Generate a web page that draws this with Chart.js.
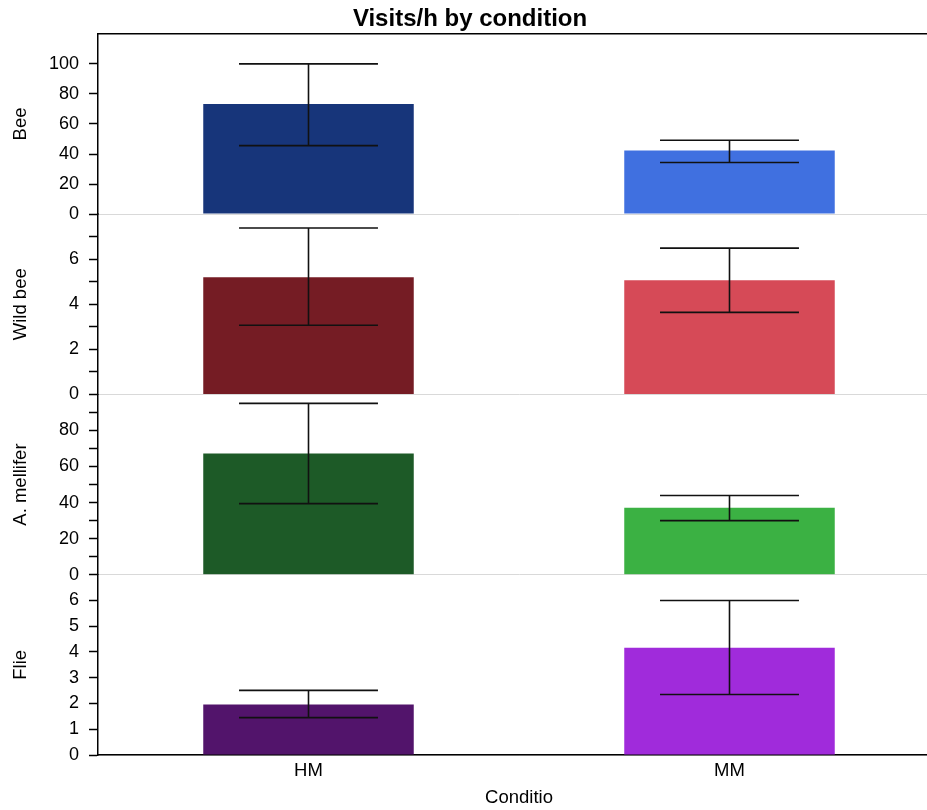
<!DOCTYPE html>
<html>
<head>
<meta charset="utf-8">
<script src="https://cdn.jsdelivr.net/npm/chart.js@4"></script>
<style>
  html, body { margin: 0; padding: 0; background: #fff; overflow: hidden; }
  canvas { display: block; }
</style>
</head>
<body>
<canvas id="chart" width="940" height="810"></canvas>
<script>
const categories = ['HM', 'MM']

// mean and error-bar ends, one set per panel
const beeMeans = [73.2, 42.3]
const beeLow = [45.6, 34.3]
const beeHigh = [100, 49.2]

const wildMeans = [5.2, 5.07]
const wildLow = [3.07, 3.64]
const wildHigh = [7.38, 6.49]

const mellMeans = [67.2, 37.2]
const mellLow = [39.4, 30]
const mellHigh = [95, 43.9]

const flieMeans = [1.96, 4.16]
const flieLow = [1.45, 2.35]
const flieHigh = [2.51, 6.0]

const beeTicks = [0, 20, 40, 60, 80, 100]
const wildTicks = [0, 1, 2, 3, 4, 5, 6, 7]
const mellTicks = [0, 10, 20, 30, 40, 50, 60, 70, 80, 90]
const flieTicks = [0, 1, 2, 3, 4, 5, 6]

const FONT = '"Liberation Sans", Arial, Helvetica, sans-serif'

const errorBars = {
  id: 'errorBars',
  afterDatasetsDraw(chart) {
    const ctx = chart.ctx
    ctx.save()
    ctx.strokeStyle = '#111'
    ctx.lineWidth = 1.6
    chart.data.datasets.forEach((ds, i) => {
      const meta = chart.getDatasetMeta(i)
      const scale = chart.scales[meta.yAxisID]
      meta.data.forEach((bar, j) => {
        const x = bar.x
        const half = bar.width * 0.33
        const yl = scale.getPixelForValue(ds.low[j])
        const yh = scale.getPixelForValue(ds.high[j])
        ctx.beginPath()
        ctx.moveTo(x, yl); ctx.lineTo(x, yh)
        ctx.moveTo(x - half, yl); ctx.lineTo(x + half, yl)
        ctx.moveTo(x - half, yh); ctx.lineTo(x + half, yh)
        ctx.stroke()
      })
    })
    ctx.restore()
  }
}

const topBorder = {
  id: 'topBorder',
  afterDraw(chart) {
    const {ctx, chartArea} = chart
    ctx.save()
    ctx.strokeStyle = '#000'
    ctx.lineWidth = 1.5
    ctx.beginPath()
    ctx.moveTo(chartArea.left, chartArea.top)
    ctx.lineTo(chartArea.right, chartArea.top)
    ctx.stroke()
    ctx.restore()
  }
}

function yAxis(title, max, ticks, labelEvery) {
  return {
    position: 'left',
    stack: 'panels',
    min: 0,
    max: max,
    afterBuildTicks(scale) {
      scale.ticks = ticks.map(v => ({value: v}))
    },
    afterFit(scale) {
      scale.width = 98
    },
    ticks: {
      autoSkip: false,
      color: '#000',
      font: {family: FONT, size: 18},
      padding: 10,
      callback: v => (v % labelEvery === 0 ? v : ''),
    },
    grid: {
      color: c => (c.tick && c.tick.value === 0 ? '#d9d9d9' : 'transparent'),
      tickColor: '#000',
      tickLength: 9,
      lineWidth: 1,
      tickWidth: 1.5,
    },
    border: {color: '#000', width: 1.5},
    title: {
      display: true,
      text: title,
      color: '#000',
      font: {family: FONT, size: 18.5},
      padding: {top: 10, bottom: 0},
    },
  }
}

function dataset(means, low, high, colors, axis) {
  return {
    data: means,
    low: low,
    high: high,
    yAxisID: axis,
    backgroundColor: colors,
    borderWidth: 0,
    grouped: false,
    categoryPercentage: 0.5,
    barPercentage: 1.0,
  }
}

new Chart(document.getElementById('chart'), {
  type: 'bar',
  data: {
    labels: categories,
    datasets: [
      dataset(beeMeans, beeLow, beeHigh, ['#17357a', '#4070e0'], 'yBee'),
      dataset(wildMeans, wildLow, wildHigh, ['#751c24', '#d64a57'], 'yWild'),
      dataset(mellMeans, mellLow, mellHigh, ['#1d5a27', '#3bb143'], 'yMell'),
      dataset(flieMeans, flieLow, flieHigh, ['#52146b', '#a02bdb'], 'yFlie'),
    ],
  },
  options: {
    responsive: false,
    animation: false,
    layout: {padding: 0},
    plugins: {
      legend: {display: false},
      tooltip: {enabled: false},
      title: {
        display: true,
        text: 'Visits/h by condition',
        color: '#000',
        font: {family: FONT, size: 24, weight: 'bold'},
        padding: {top: 5, bottom: 0},
      },
    },
    scales: {
      x: {
        afterFit(scale) {
          scale.height = 55
        },
        grid: {display: false, drawTicks: false},
        border: {color: '#000', width: 1.5},
        ticks: {
          color: '#000',
          font: {family: FONT, size: 18.5},
          padding: 5,
        },
        title: {
          display: true,
          text: 'Conditio',
          color: '#000',
          font: {family: FONT, size: 18.5},
          padding: {top: 0, bottom: 1},
        },
      },
      // stacked axes are laid out bottom to top
      yFlie: yAxis('Flie', 7, flieTicks, 1),
      yMell: yAxis('A. mellifer', 100, mellTicks, 20),
      yWild: yAxis('Wild bee', 8, wildTicks, 2),
      yBee: yAxis('Bee', 120, beeTicks, 20),
    },
  },
  plugins: [errorBars, topBorder],
})
</script>
</body>
</html>
